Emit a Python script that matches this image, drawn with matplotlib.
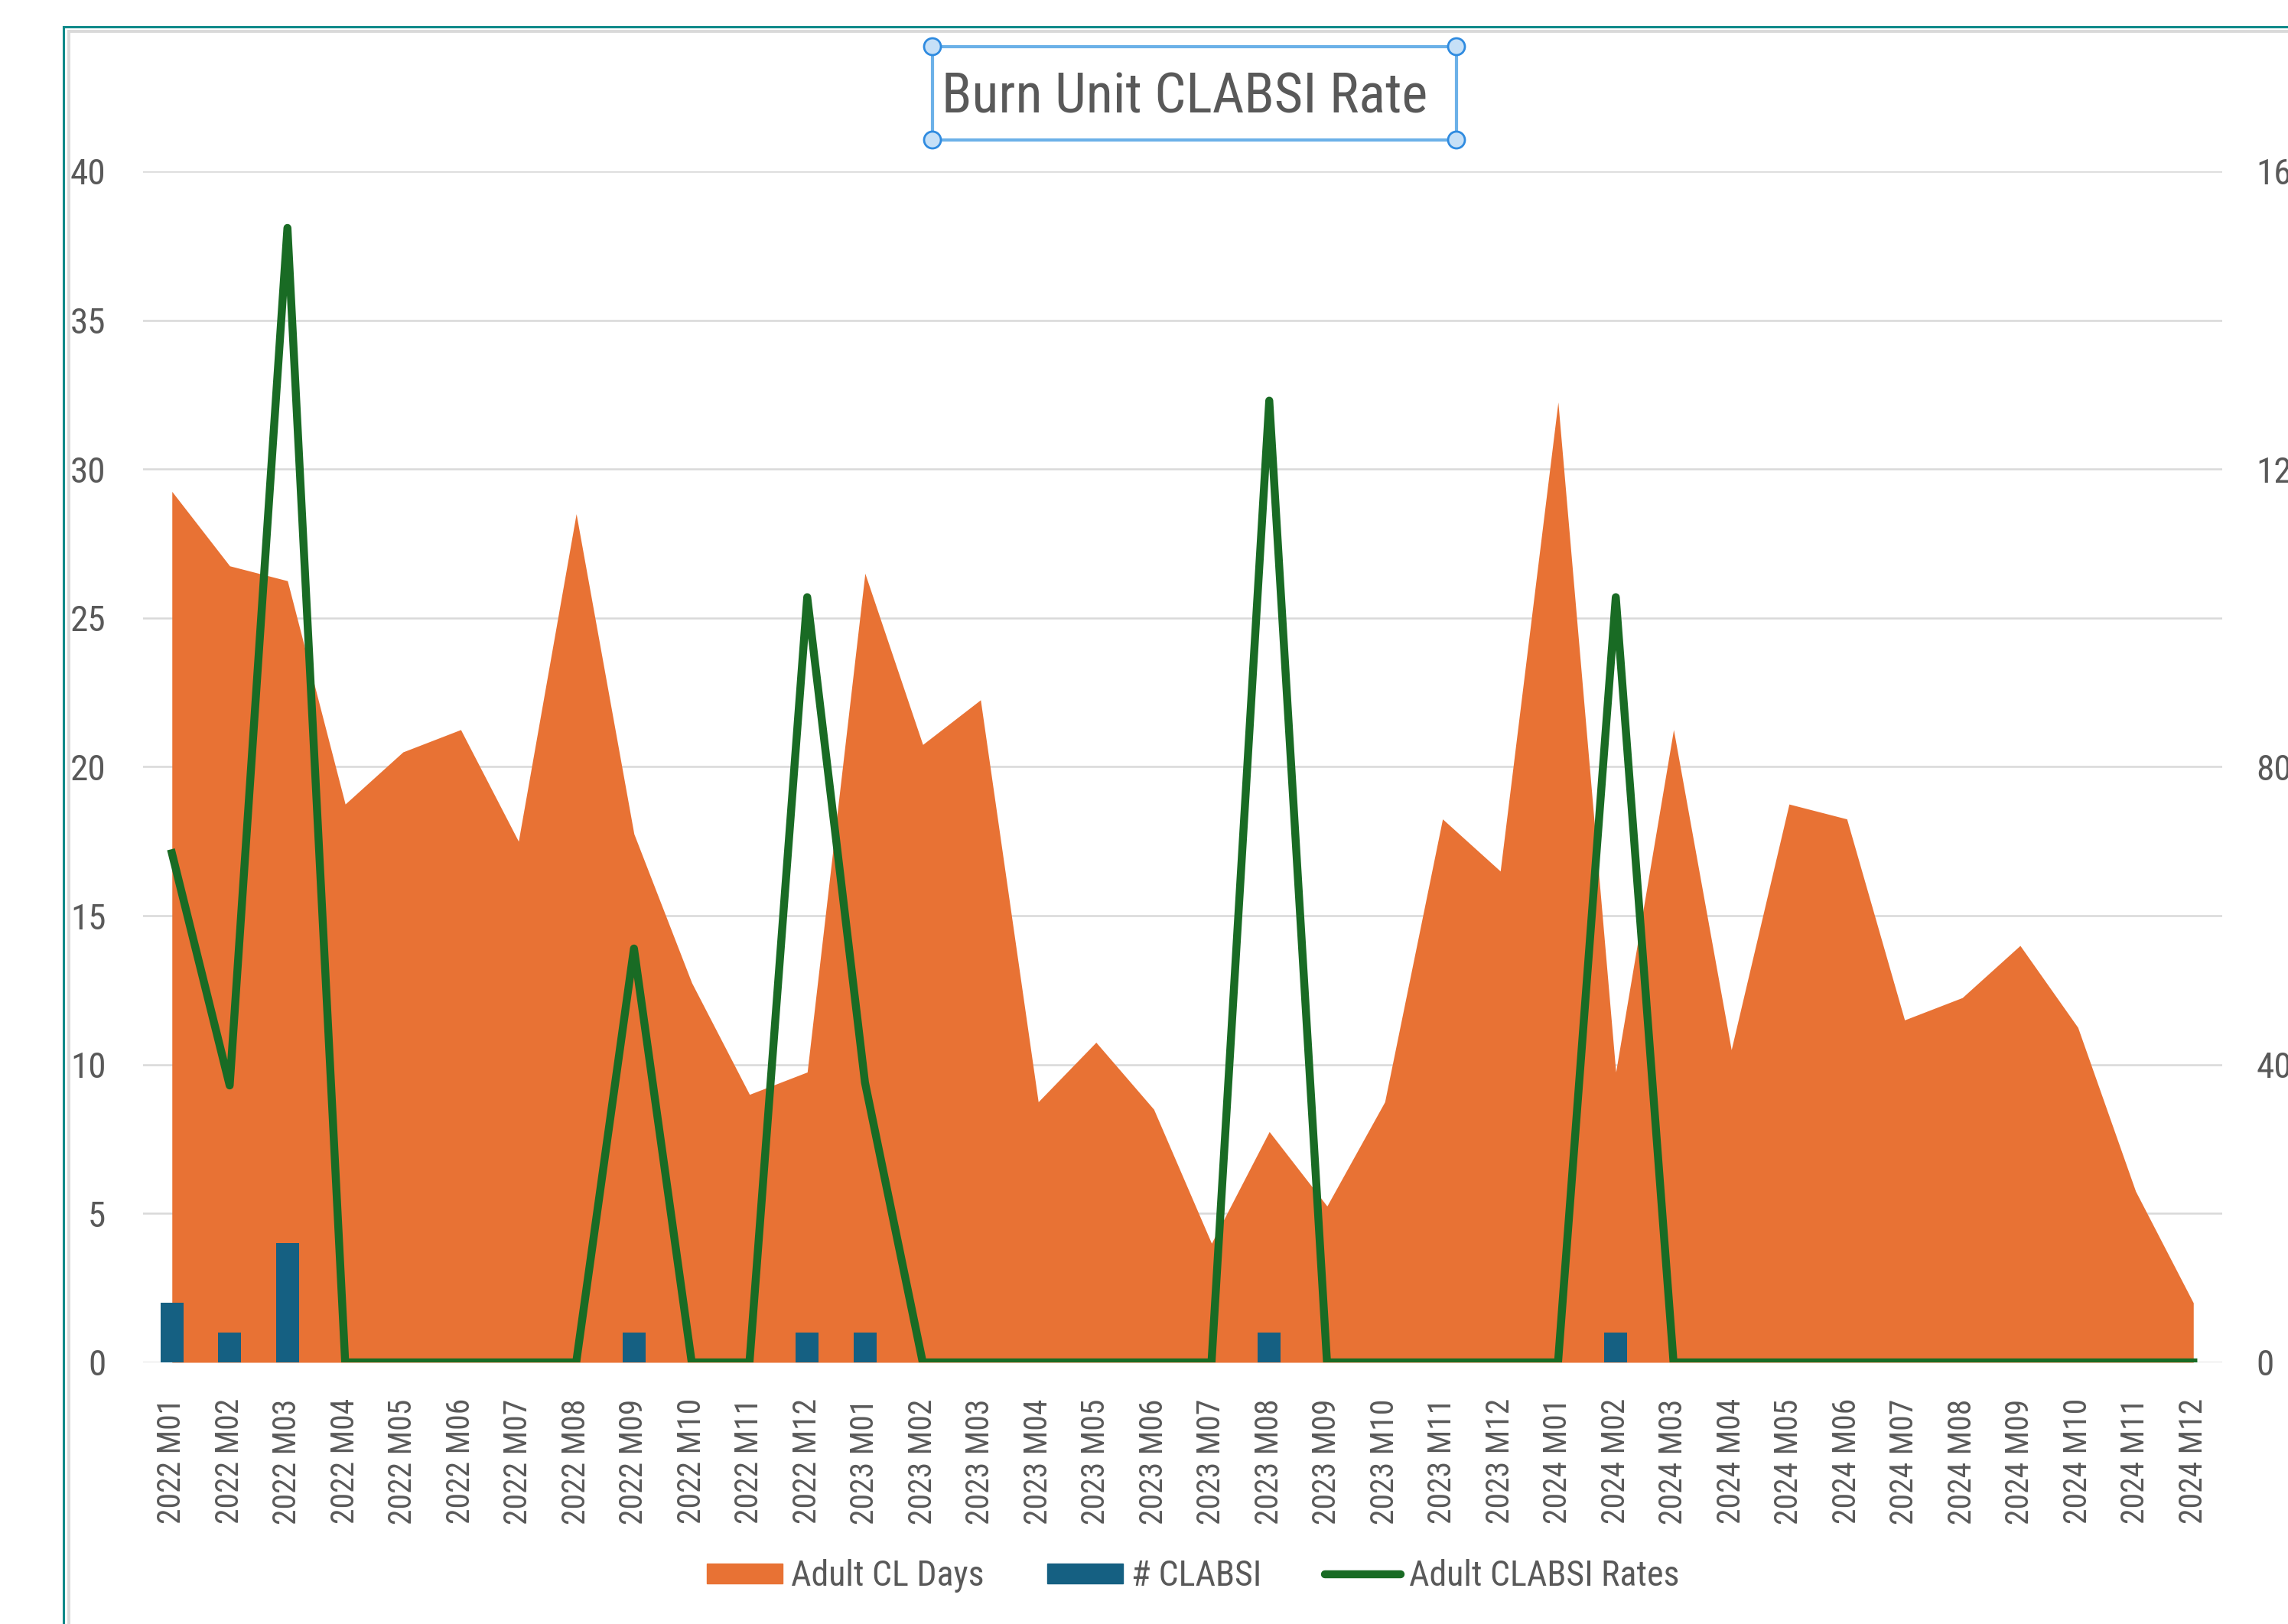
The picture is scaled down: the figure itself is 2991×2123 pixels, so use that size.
import matplotlib
matplotlib.use("Agg")
import matplotlib.pyplot as plt
import matplotlib.font_manager as fm
from matplotlib.patches import Patch, Rectangle, Ellipse
from matplotlib.lines import Line2D

######################## DATA ############################
years = ['2022', '2023', '2024']
months = ['M01', 'M02', 'M03', 'M04', 'M05', 'M06', 'M07', 'M08', 'M09', 'M10', 'M11', 'M12']
labels = [y + ' ' + m for y in years for m in months]

# Adult CL Days (right axis)
cl_days = [117, 107, 105, 75, 82, 85, 70, 114, 71, 51, 36, 39,
           106, 83, 89, 35, 43, 34, 16, 31, 21, 35, 73, 66,
           129, 39, 85, 42, 75, 73, 46, 49, 56, 45, 23, 8]

# number of CLABSI (left axis)
clabsi = [2, 1, 4, 0, 0, 0, 0, 0, 1, 0, 0, 1,
          1, 0, 0, 0, 0, 0, 0, 1, 0, 0, 0, 0,
          0, 1, 0, 0, 0, 0, 0, 0, 0, 0, 0, 0]

# Adult CLABSI Rates (left axis)
rates = [17.1, 9.3, 38.1, 0, 0, 0, 0, 0, 13.9, 0, 0, 25.7,
         9.4, 0, 0, 0, 0, 0, 0, 32.3, 0, 0, 0, 0,
         0, 25.7, 0, 0, 0, 0, 0, 0, 0, 0, 0, 0]

######################## FONT ############################
# the chart uses a narrow font, look for a condensed face
skip = ['Bold', 'Italic', 'Oblique', 'Light', 'Semi', 'Extra', 'Black',
        'Medium', 'Thin', 'Mono', 'Serif', 'Ultra']
cands = [f for f in fm.fontManager.ttflist
         if ('Narrow' in f.fname or 'Condensed' in f.fname)
         and not any(s in f.fname for s in skip)]
order = ['Liberation', 'Noto', 'Open', 'Roboto', 'DejaVu']
cands.sort(key=lambda f: next((i for i, o in enumerate(order) if o in f.name), 9))

if cands:
    f = cands[0]
    plt.rcParams['font.family'] = [f.name, 'DejaVu Sans']
    plt.rcParams['font.stretch'] = f.stretch
    k = 1.0
else:
    plt.rcParams['font.family'] = ['Liberation Sans', 'DejaVu Sans']
    k = 0.85

orange = '#E87234'
blue = '#156082'
green = '#196B24'
text_gray = '#595959'
grid_gray = '#d9d9d9'

######################## PLOT ############################
W, H = 2991, 2123
fig = plt.figure(figsize=(W / 100, H / 100), dpi=100)

ax = fig.add_axes([187 / W, 1 - 1781 / H, (2905 - 187) / W, (1781 - 224) / H])
ax_r = ax.twinx()
ax.set_zorder(ax_r.get_zorder() + 1)
ax.patch.set_visible(False)

x = list(range(len(labels)))

# area on the right axis
ax_r.fill_between(x, cl_days, color=orange, lw=0, zorder=2)
ax_r.set_ylim(0, 160)
ax_r.set_yticks([0, 40, 80, 120, 160])
ax_r.set_yticks([20, 60, 100, 140], minor=True)
ax_r.set_axisbelow(True)
ax_r.grid(which='both', axis='y', color=grid_gray, lw=1.8)
ax_r.tick_params(which='both', length=0, labelsize=34 * k, labelcolor=text_gray, pad=32)

# bars and line on the left axis
ax.bar(x, clabsi, width=0.4, color=blue, zorder=2)
ax.plot(x, rates, color=green, lw=7.5, zorder=3)
ax.set_ylim(0, 40)
ax.set_yticks(range(0, 41, 5))
ax.set_xlim(-0.5, len(labels) - 0.5)
ax.set_xticks(x)
ax.set_xticklabels(labels, rotation=90)
ax.tick_params(axis='y', length=0, labelsize=34 * k, labelcolor=text_gray, pad=35)
ax.tick_params(axis='x', length=0, labelsize=30 * k, labelcolor=text_gray, pad=34)

for a in (ax, ax_r):
    for s in a.spines.values():
        s.set_visible(False)

# legend
handles = [Patch(color=orange), Patch(color=blue),
           Line2D([], [], color=green, lw=7.5, solid_capstyle='round')]
fig.legend(handles, ['Adult CL Days', '# CLABSI', 'Adult CLABSI Rates'],
           loc='center', bbox_to_anchor=(0.5215, 0.0296), ncol=3, frameon=False,
           fontsize=33 * k, handlelength=2.15 / k, handleheight=0.5 / k, handletextpad=0.25,
           columnspacing=1.8 / k, labelcolor=text_gray)

# outer frame of the screenshot
fig.add_artist(Line2D([83 / W, 1], [1 - 35 / H, 1 - 35 / H], color='#108a8a', lw=2.2))
fig.add_artist(Line2D([83 / W, 83 / W], [0, 1 - 35 / H], color='#108a8a', lw=2.2))
fig.add_artist(Line2D([90 / W, 1], [1 - 41 / H, 1 - 41 / H], color=grid_gray, lw=2.8))
fig.add_artist(Line2D([90 / W, 90 / W], [0, 1 - 41 / H], color=grid_gray, lw=2.8))

# title with selection box
x0, x1, y0, y1 = 1219, 1904, 61, 183
fig.add_artist(Rectangle((x0 / W, 1 - y1 / H), (x1 - x0) / W, (y1 - y0) / H,
                         transform=fig.transFigure, fill=False, ec='#6cb1e8', lw=3))
for cx in (x0, x1):
    for cy in (y0, y1):
        fig.add_artist(Ellipse((cx / W, 1 - cy / H), 22 / W, 22 / H, transform=fig.transFigure,
                               fc='#c6e0f7', ec='#2f8be0', lw=2))
fig.text(1549 / W, 1 - 147 / H, 'Burn Unit CLABSI Rate', ha='center', va='baseline',
         fontsize=52 * k, color=text_gray)

fig.savefig('out.png', dpi=100)
